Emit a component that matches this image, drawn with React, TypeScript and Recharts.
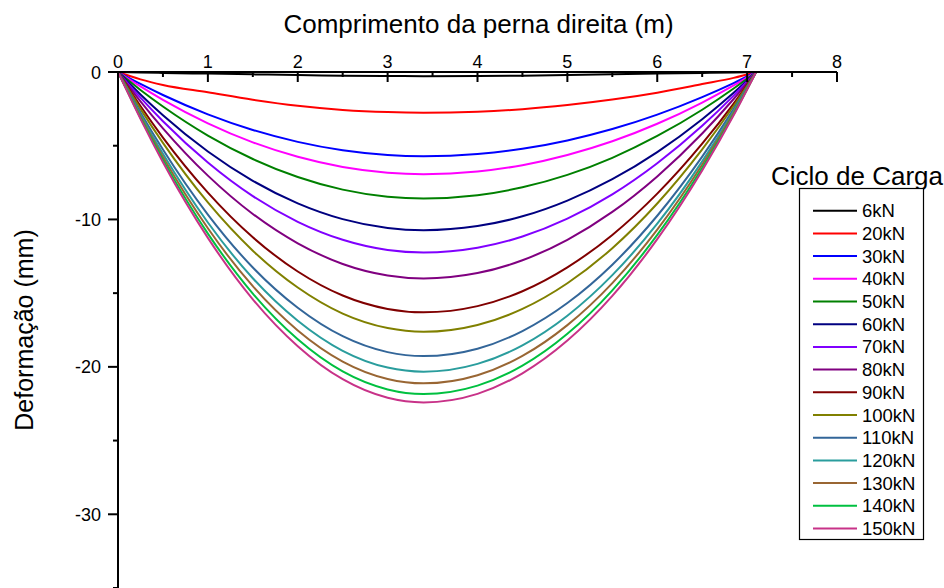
import React from 'react';
import { LineChart, Line, XAxis, YAxis, Label } from 'recharts';

// Positions along the leg (m) where deflection was sampled
const X_POS = [0, 0.25, 0.5, 1, 1.5, 2, 2.5, 3, 3.4, 4, 4.5, 5, 5.5, 6, 6.5, 6.85, 7.1];

// Deflection (mm) for each load step
const D_6 = [0, -0.03, -0.06, -0.11, -0.16, -0.21, -0.25, -0.27, -0.28, -0.27, -0.25, -0.21, -0.16, -0.11, -0.06, -0.03, 0];
const D_20 = [0, -0.5, -0.88, -1.38, -1.88, -2.29, -2.57, -2.72, -2.76, -2.69, -2.52, -2.24, -1.87, -1.4, -0.82, -0.4, 0];
const D_30 = [0, -0.81, -1.56, -2.87, -3.93, -4.74, -5.31, -5.63, -5.71, -5.56, -5.21, -4.64, -3.87, -2.89, -1.7, -0.75, 0];
const D_40 = [0, -0.98, -1.89, -3.48, -4.77, -5.75, -6.44, -6.83, -6.93, -6.75, -6.32, -5.63, -4.7, -3.51, -2.07, -0.91, 0];
const D_50 = [0, -1.22, -2.34, -4.31, -5.9, -7.12, -7.98, -8.46, -8.58, -8.36, -7.82, -6.98, -5.82, -4.34, -2.56, -1.12, 0];
const D_60 = [0, -1.52, -2.93, -5.39, -7.38, -8.91, -9.98, -10.58, -10.73, -10.45, -9.79, -8.72, -7.27, -5.43, -3.2, -1.41, 0];
const D_70 = [0, -1.74, -3.34, -6.14, -8.42, -10.16, -11.38, -12.07, -12.24, -11.92, -11.16, -9.95, -8.3, -6.19, -3.65, -1.6, 0];
const D_80 = [0, -1.99, -3.82, -7.03, -9.63, -11.62, -13.02, -13.8, -14.0, -13.64, -12.77, -11.38, -9.49, -7.08, -4.17, -1.83, 0];
const D_90 = [0, -2.31, -4.45, -8.18, -11.21, -13.53, -15.16, -16.07, -16.3, -15.88, -14.87, -13.25, -11.05, -8.25, -4.86, -2.14, 0];
const D_100 = [0, -2.5, -4.81, -8.85, -12.12, -14.62, -16.39, -17.37, -17.62, -17.16, -16.07, -14.33, -11.95, -8.92, -5.25, -2.31, 0];
const D_110 = [0, -2.74, -5.26, -9.67, -13.26, -15.99, -17.92, -19.0, -19.27, -18.77, -17.57, -15.67, -13.07, -9.75, -5.74, -2.52, 0];
const D_120 = [0, -2.89, -5.55, -10.21, -13.99, -16.87, -18.91, -20.05, -20.33, -19.8, -18.54, -16.53, -13.78, -10.29, -6.06, -2.66, 0];
const D_130 = [0, -3.0, -5.77, -10.6, -14.53, -17.53, -19.64, -20.82, -21.12, -20.57, -19.26, -17.17, -14.32, -10.69, -6.29, -2.77, 0];
const D_140 = [0, -3.1, -5.96, -10.96, -15.03, -18.13, -20.31, -21.53, -21.84, -21.27, -19.92, -17.76, -14.81, -11.05, -6.51, -2.86, 0];
const D_150 = [0, -3.18, -6.12, -11.25, -15.42, -18.6, -20.84, -22.1, -22.41, -21.83, -20.44, -18.22, -15.19, -11.34, -6.68, -2.94, 0];

const LOADS = ['6kN', '20kN', '30kN', '40kN', '50kN', '60kN', '70kN', '80kN', '90kN', '100kN', '110kN', '120kN', '130kN', '140kN', '150kN'];
const SERIES = [D_6, D_20, D_30, D_40, D_50, D_60, D_70, D_80, D_90, D_100, D_110, D_120, D_130, D_140, D_150];
const COLORS = [
    '#000000', '#ff0000', '#0000ff', '#ff00ff', '#008000',
    '#000080', '#8000ff', '#800080', '#800000', '#808000',
    '#336699', '#2a9d9d', '#996633', '#00c040', '#c83288'
];

const X_TICKS = [0, 0.5, 1, 1.5, 2, 2.5, 3, 3.5, 4, 4.5, 5, 5.5, 6, 6.5, 7, 7.5, 8];
const Y_TICKS = [0, -5, -10, -15, -20, -25, -30, -35];

const FONT = '"Liberation Sans", Arial, sans-serif';

const chartData = X_POS.map((x, i) => {
    const row: Record<string, number> = { x };
    LOADS.forEach((name, k) => {
        row[name] = SERIES[k][i];
    });
    return row;
});

// top axis: ticks hang below the axis line, numbers sit above it
const XTick = ({ x, y, payload }: any) => {
    const v = payload.value;
    const major = Number.isInteger(v);
    return (
        <g>
            <line x1={x} y1={y} x2={x} y2={y + (major ? 10 : 5)} stroke="#000" strokeWidth={2} />
            {major && (
                <text x={x} y={y - 4} textAnchor="middle" fontSize={18} fontFamily={FONT} fill="#000">
                    {v}
                </text>
            )}
        </g>
    );
};

const YTick = ({ x, y, payload }: any) => {
    const v = payload.value;
    const major = v % 10 === 0;
    return (
        <g>
            <line x1={x - (major ? 10 : 5)} y1={y} x2={x} y2={y} stroke="#000" strokeWidth={2} />
            {major && (
                <text x={x - 17} y={y + 6.5} textAnchor="end" fontSize={18} fontFamily={FONT} fill="#000">
                    {v}
                </text>
            )}
        </g>
    );
};

const LegendBox = () => {
    const left = 799;
    const top = 188;
    const rowH = 22.7;
    return (
        <svg width={944} height={588} style={{ position: 'absolute', left: 0, top: 0, pointerEvents: 'none' }}>
            <text x={857} y={185} textAnchor="middle" fontSize={26} fontFamily={FONT} fill="#000">
                Ciclo de Carga
            </text>
            <rect x={left + 0.5} y={top + 0.5} width={124} height={351} fill="#fff" stroke="#000" strokeWidth={1.2} />
            {LOADS.map((name, i) => {
                const cy = top + 22.7 + rowH * i;
                return (
                    <g key={name}>
                        <line x1={left + 14} x2={left + 58} y1={cy} y2={cy} stroke={COLORS[i]} strokeWidth={2} />
                        <text x={left + 63} y={cy + 6.5} fontSize={18.5} fontFamily={FONT} fill="#000">
                            {name}
                        </text>
                    </g>
                );
            })}
        </svg>
    );
};

export default function App() {
    return (
        <div style={{ position: 'absolute', left: 0, top: 0, width: 944, height: 588, background: '#fff' }}>
            <LineChart width={944} height={588} data={chartData} margin={{ top: 42, right: 107, bottom: 0, left: 58 }}>
                <XAxis
                    dataKey="x"
                    type="number"
                    orientation="top"
                    domain={[0, 8]}
                    ticks={X_TICKS}
                    interval={0}
                    height={30}
                    tickSize={0}
                    tickMargin={0}
                    tickLine={false}
                    tick={<XTick />}
                    axisLine={{ stroke: '#000', strokeWidth: 2 }}
                >
                    <Label
                        content={({ viewBox }: any) => (
                            <text
                                x={viewBox.x + viewBox.width / 2 + 1}
                                y={viewBox.y - 9}
                                textAnchor="middle"
                                fontSize={26}
                                fontFamily={FONT}
                                fill="#000"
                            >
                                Comprimento da perna direita (m)
                            </text>
                        )}
                    />
                </XAxis>
                <YAxis
                    type="number"
                    domain={[-35, 0]}
                    ticks={Y_TICKS}
                    interval={0}
                    width={60}
                    tickSize={0}
                    tickMargin={0}
                    tickLine={false}
                    tick={<YTick />}
                    axisLine={{ stroke: '#000', strokeWidth: 2 }}
                >
                    <Label
                        content={({ viewBox }: any) => {
                            const cx = viewBox.x - 25;
                            const cy = viewBox.y + viewBox.height / 2;
                            return (
                                <text
                                    x={cx}
                                    y={cy}
                                    transform={`rotate(-90, ${cx}, ${cy})`}
                                    textAnchor="middle"
                                    fontSize={25}
                                    fontFamily={FONT}
                                    fill="#000"
                                >
                                    Deformação (mm)
                                </text>
                            );
                        }}
                    />
                </YAxis>
                {LOADS.map((name, i) => (
                    <Line
                        key={name}
                        type="monotone"
                        dataKey={name}
                        stroke={COLORS[i]}
                        strokeWidth={2}
                        dot={false}
                        isAnimationActive={false}
                    />
                ))}
            </LineChart>
            <LegendBox />
        </div>
    );
}
